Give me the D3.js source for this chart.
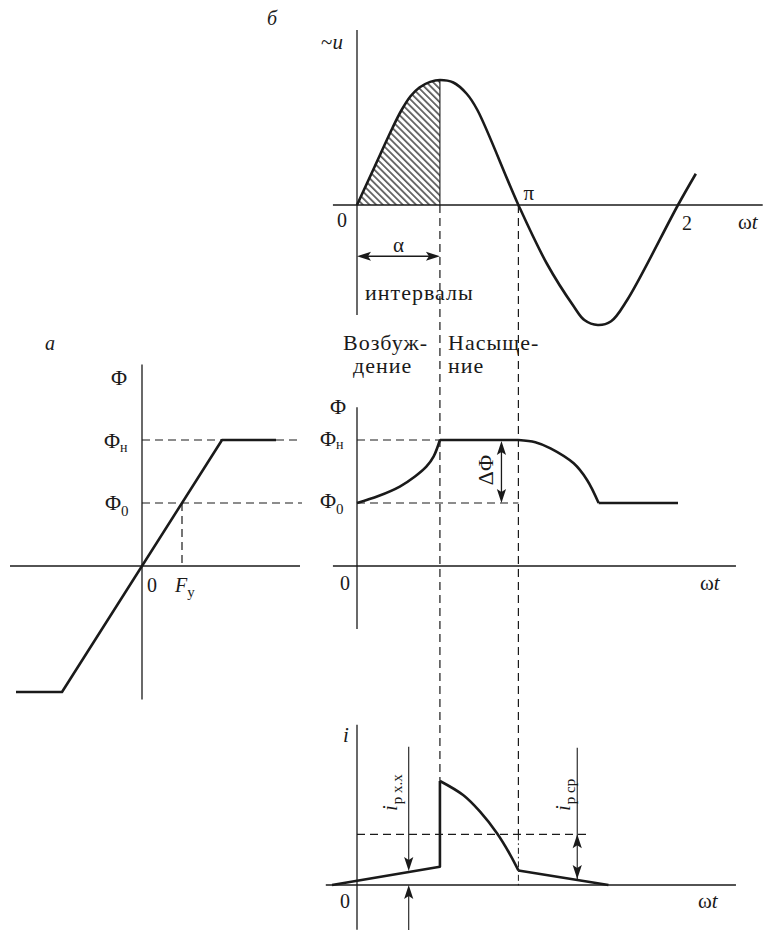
<!DOCTYPE html>
<html>
<head>
<meta charset="utf-8">
<script src="https://cdn.jsdelivr.net/npm/d3@7"></script>
<style>
  body { margin: 0; background: #fff; }
  svg { display: block; }
</style>
</head>
<body>
<svg id="fig" width="769" height="930"></svg>
<script>
// ---- data (phase ωt in degrees, quantities in relative units) ----
const alphaDeg = 93;          // end of the excitation interval
const piDeg = 181;            // first zero crossing of the supply voltage
// supply voltage ~u over one period
const uWave = [[0,0],[20,0.31],[40,0.62],[50,0.76],[60,0.87],[70,0.94],[82,0.985],[93,1],[108,0.98],[123,0.89],
               [135,0.76],[181,0],[213,-0.47],[243,-0.81],[255,-0.92],[270,-0.96],[285,-0.93],
               [303,-0.76],[360,0],[380,0.25]];
// magnetization characteristic Φ(F), F in units of F_y
const magCurve = [[-3.15,-1],[-2,-1],[2,1],[3.35,1]];
const phiSat = 1, phi0 = 0.5, Fy = 1;
// core flux versus ωt
const fluxRise = [[0,0.5],[24,0.555],[48,0.63],[65,0.71],[78,0.79],[86,0.87],[93,1]];
const fluxFlat = [[93,1],[181,1]];
const fluxFall = [[181,1],[200,0.983],[217,0.934],[243,0.815],[258,0.683],[271,0.5]];
const fluxTail = [[271,0.5],[360,0.5]];
// working-winding current versus ωt
const iIdle  = [[-28,0],[93,0.176],[93,1]];
const iPulse = [[93,1],[119,0.865],[138,0.705],[157,0.497],[172,0.288],[181,0.14]];
const iDecay = [[181,0.14],[282,0]];
const iAvg = 0.487;           // i_p ср
const iIdleAt = 58;           // where i_p х.х is measured
const iAvgAt = 247;           // where i_p ср is measured
const dPhiAt = 162;           // ΔΦ arrow position

// ---- scales ----
const FONT = "'Liberation Serif','DejaVu Serif',serif";
const svg = d3.select("#fig").attr("font-family", FONT);
const x  = d3.scaleLinear().domain([0, 360]).range([357, 678]);
const yU = d3.scaleLinear().domain([-1, 1]).range([330, 80]);
const yP = d3.scaleLinear().domain([0, 1]).range([566, 440]);
const xF = d3.scaleLinear().domain([0, 1]).range([142, 182]);
const yI = d3.scaleLinear().domain([0, 1]).range([885, 781]);

const INK = "#1a1a1a";
const defs = svg.append("defs");
defs.append("pattern")
  .attr("id", "hatch").attr("patternUnits", "userSpaceOnUse")
  .attr("width", 4.7).attr("height", 4.7)
  .attr("patternTransform", "rotate(45)")
  .append("line").attr("x1", 0).attr("y1", 1).attr("x2", 4.7).attr("y2", 1)
  .attr("stroke", "#333").attr("stroke-width", 1.4);
defs.append("clipPath").attr("id", "alphaClip")
  .append("rect").attr("x", x(0)).attr("y", 0)
  .attr("width", x(alphaDeg) - x(0)).attr("height", 930);

function seg(x1, y1, x2, y2, style) {
  const l = svg.append("line").attr("x1", x1).attr("y1", y1).attr("x2", x2).attr("y2", y2)
    .attr("stroke", INK).attr("stroke-width", 1.3);
  if (style === "dash") l.attr("stroke-dasharray", "8,5").attr("stroke-width", 1.2);
  if (style === "dot") l.attr("stroke-dasharray", "6,3,1.5,3").attr("stroke-width", 1);
  if (style === "thin") l.attr("stroke-width", 1.1);
  return l;
}
function curve(data, sx, sy, kind) {
  const gen = d3.line().x(d => sx(d[0])).y(d => sy(d[1]))
    .curve(kind || d3.curveLinear);
  svg.append("path").attr("d", gen(data)).attr("fill", "none")
    .attr("stroke", INK).attr("stroke-width", 2.6).attr("stroke-linejoin", "round");
}
function arrowHead(tx, ty, ang) {
  const L = 14, W = 4.6, N = 3;
  const c = Math.cos(ang), s = Math.sin(ang);
  const pt = (a, b) => [tx - a * c + b * s, ty - a * s - b * c];
  const p = [pt(0, 0), pt(L, W), pt(L - N, 0), pt(L, -W)];
  svg.append("path").attr("d", "M" + p.map(q => q.join(",")).join("L") + "Z").attr("fill", INK);
}
function label(px, py, parts, opts = {}) {
  const t = svg.append("text").attr("x", px).attr("y", py)
    .attr("font-family", FONT).attr("fill", INK)
    .attr("font-size", opts.size || 20);
  if (opts.anchor) t.attr("text-anchor", opts.anchor);
  if (opts.spacing) t.attr("letter-spacing", opts.spacing);
  if (opts.rotate) t.attr("transform", `rotate(${opts.rotate},${px},${py})`);
  parts.forEach(p => {
    const s = t.append("tspan").text(p.t);
    if (p.it) s.attr("font-style", "italic");
    if (p.size) s.attr("font-size", p.size);
    if (p.dy) s.attr("dy", p.dy);
    if (p.dx) s.attr("dx", p.dx);
  });
  return t;
}
const smooth = d3.curveCatmullRom.alpha(0.5);
const WORD = {size: 22, spacing: 1};

// ================= б : supply voltage =================
svg.append("path")
  .attr("d", d3.area().x(d => x(d[0])).y0(yU(0)).y1(d => yU(d[1])).curve(smooth)(uWave))
  .attr("fill", "url(#hatch)").attr("clip-path", "url(#alphaClip)");
seg(x(-27), yU(0), x(455), yU(0));
seg(x(0), yU(1.4), x(0), yU(-0.88));
seg(x(alphaDeg), yU(1), x(alphaDeg), yU(0), "thin");
curve(uWave, x, yU, smooth);

label(267, 25, [{t: "б", it: true}], {size: 20});
label(321, 49, [{t: "~"}, {t: "u", it: true}], {size: 21});
label(337, 227, [{t: "0"}]);
label(x(piDeg) + 5, 200, [{t: "π"}], {size: 21});
label(x(360) + 4, 230, [{t: "2"}]);
label(738, 229, [{t: "ω"}, {t: "t", it: true}], {size: 21});

// α interval
const yAlpha = yU(-0.41);
seg(x(0) + 11, yAlpha, x(alphaDeg) - 11, yAlpha);
arrowHead(x(0), yAlpha, Math.PI);
arrowHead(x(alphaDeg), yAlpha, 0);
label((x(0) + x(alphaDeg)) / 2, 252, [{t: "α"}], {anchor: "middle", size: 21});
label(365, 300, [{t: "интервалы"}], WORD);
label(343, 350, [{t: "Возбуж-"}], WORD);
label(353, 373, [{t: "дение"}], WORD);
label(448, 350, [{t: "Насыще-"}], WORD);
label(448, 373, [{t: "ние"}], WORD);

// phase boundaries running through all diagrams
seg(x(alphaDeg), yU(0), x(alphaDeg), yI(1), "dash");
seg(x(piDeg), yU(0), x(piDeg), yI(iAvg), "dash");
seg(x(piDeg), yI(iAvg), x(piDeg), yI(-0.03), "dot");

// ================= а : magnetization characteristic =================
seg(xF(-3.3), yP(0), xF(3.95), yP(0));
seg(xF(0), yP(1.6), xF(0), yP(-1.06));
seg(xF(0), yP(phiSat), xF(2 * Fy), yP(phiSat), "dash");
seg(xF(3.35), yP(phiSat), xF(4.0), yP(phiSat), "dash");
seg(xF(0), yP(phi0), xF(4.0), yP(phi0), "dash");
seg(xF(Fy), yP(phi0), xF(Fy), yP(0), "dash");
curve(magCurve, xF, yP);

label(45, 350, [{t: "а", it: true}], {size: 20});
label(111, 385, [{t: "Φ"}], {size: 22});
label(104, 448, [{t: "Φ"}, {t: "н", size: 14, dy: 4}], {size: 22});
label(105, 510, [{t: "Φ"}, {t: "0", size: 15, dy: 6}], {size: 22});
label(147, 592, [{t: "0"}]);
label(175, 592, [{t: "F", it: true}, {t: "у", size: 15, dy: 5}]);

// ================= flux versus ωt =================
seg(x(-27), yP(0), x(425), yP(0));
seg(x(0), yP(1.26), x(0), yP(-0.5));
seg(x(0), yP(phiSat), x(alphaDeg), yP(phiSat), "dash");
seg(x(0), yP(phi0), x(piDeg), yP(phi0), "dash");
curve(fluxRise, x, yP, smooth);
curve(fluxFlat, x, yP);
curve(fluxFall, x, yP, smooth);
curve(fluxTail, x, yP);

// ΔΦ
seg(x(dPhiAt), yP(phiSat) + 10, x(dPhiAt), yP(phi0) - 10);
arrowHead(x(dPhiAt), yP(phiSat) + 1, -Math.PI / 2);
arrowHead(x(dPhiAt), yP(phi0), Math.PI / 2);
label(493, 470, [{t: "ΔΦ"}], {anchor: "middle", rotate: -90, size: 22});

label(330, 414, [{t: "Φ"}], {size: 22});
label(320, 446, [{t: "Φ"}, {t: "н", size: 14, dy: 3}], {size: 22});
label(320, 508, [{t: "Φ"}, {t: "0", size: 15, dy: 6}], {size: 22});
label(340, 590, [{t: "0"}]);
label(700, 590, [{t: "ω"}, {t: "t", it: true}], {size: 21});

// ================= current versus ωt =================
seg(x(-35), yI(0), x(425), yI(0));
seg(x(0), yI(1.54), x(0), yI(-0.43));
seg(x(0), yI(iAvg), x(262), yI(iAvg), "dash");
curve(iIdle, x, yI);
curve(iPulse, x, yI, smooth);
curve(iDecay, x, yI);

// i_p х.х marker
const idleVal = iIdle[0][1] + (iIdle[1][1] - iIdle[0][1]) * (iIdleAt - iIdle[0][0]) / (iIdle[1][0] - iIdle[0][0]);
seg(x(iIdleAt), yI(1.33), x(iIdleAt), yI(idleVal) - 10, "thin");
arrowHead(x(iIdleAt), yI(idleVal) - 1, Math.PI / 2);
seg(x(iIdleAt), yI(0) + 10, x(iIdleAt), yI(-0.45), "thin");
arrowHead(x(iIdleAt), yI(0), -Math.PI / 2);

// i_p ср marker
const avgVal = iDecay[0][1] + (iDecay[1][1] - iDecay[0][1]) * (iAvgAt - iDecay[0][0]) / (iDecay[1][0] - iDecay[0][0]);
seg(x(iAvgAt), yI(1.32), x(iAvgAt), yI(avgVal), "thin");
arrowHead(x(iAvgAt), yI(iAvg), -Math.PI / 2);
arrowHead(x(iAvgAt), yI(avgVal) - 1, Math.PI / 2);

label(397, 811, [{t: "i", it: true}, {t: "р х.х", size: 15, dy: 5, dx: 1}], {rotate: -90, size: 21});
label(570, 811, [{t: "i", it: true}, {t: "р ср", size: 15, dy: 5, dx: 1}], {rotate: -90, size: 21});

label(343, 742, [{t: "i", it: true}], {size: 21});
label(340, 908, [{t: "0"}]);
label(698, 908, [{t: "ω"}, {t: "t", it: true}], {size: 21});
</script>
</body>
</html>
